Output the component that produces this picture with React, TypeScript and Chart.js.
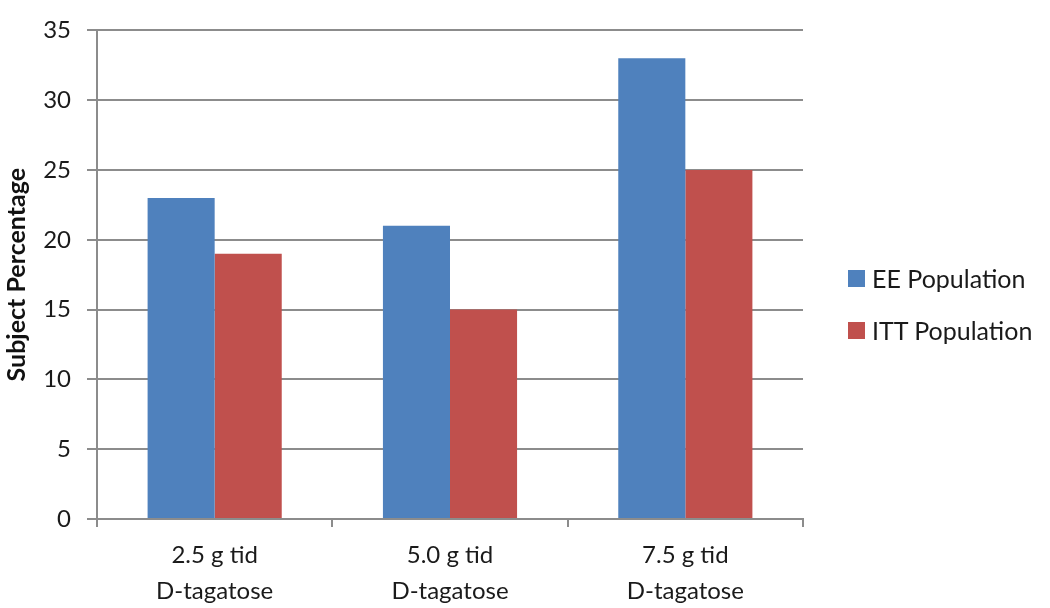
import React, { useEffect, useRef } from "react";
import { Chart, registerables } from "chart.js";

Chart.register(...registerables);

const categories: string[][] = [
  ["2.5 g tid", "D-tagatose"],
  ["5.0 g tid", "D-tagatose"],
  ["7.5 g tid", "D-tagatose"],
];
const seriesNames = ["EE Population", "ITT Population"];
const eeValues = [23, 21, 33];
const ittValues = [19, 15, 25];
const seriesColors = ["#4F81BD", "#C0504D"];
const yTitle = "Subject Percentage";

const FONT = "Lato, 'Open Sans', sans-serif";

export default function App() {
  const ref = useRef<HTMLCanvasElement | null>(null);
  useEffect(() => {
    document.body.style.margin = "0";
    if (!ref.current) return;
    const chart = new Chart(ref.current, {
      type: "bar",
      data: {
        labels: categories,
        datasets: [
          { label: seriesNames[0], data: eeValues, backgroundColor: seriesColors[0] },
          { label: seriesNames[1], data: ittValues, backgroundColor: seriesColors[1] },
        ],
      },
      options: {
        animation: false,
        responsive: false,
        maintainAspectRatio: false,
        layout: { padding: { left: 0, top: 18, right: 247, bottom: 0 } },
        plugins: { legend: { display: false }, tooltip: { enabled: false } },
        datasets: { bar: { categoryPercentage: 0.57, barPercentage: 1 } },
        scales: {
          x: {
            offset: true,
            grid: {
              offset: true,
              drawOnChartArea: false,
              drawTicks: true,
              tickLength: 8,
              color: "#8c8c8c",
              lineWidth: 2,
            },
            border: { color: "#8c8c8c", width: 2 },
            ticks: {
              color: "#1a1a1a",
              font: { family: FONT, size: 24, lineHeight: 1.5 },
              padding: 10,
              maxRotation: 0,
            },
            afterFit: (s: any) => {
              s.height = 608 - 519;
            },
          },
          y: {
            min: 0,
            max: 35,
            ticks: {
              stepSize: 5,
              color: "#1a1a1a",
              font: { family: FONT, size: 24 },
              padding: 16,
            },
            grid: { color: "#8c8c8c", lineWidth: 2, tickLength: 10 },
            border: { color: "#8c8c8c", width: 2 },
            title: {
              display: true,
              text: yTitle,
              color: "#111",
              font: { family: FONT, size: 25, weight: "bold" },
              padding: { top: 2, bottom: 0 },
            },
            afterFit: (s: any) => {
              s.width = 97;
            },
          },
        },
      },
    });
    return () => chart.destroy();
  }, []);

  return (
    <div style={{ position: "relative", width: 1050, height: 608, fontFamily: FONT }}>
      <canvas ref={ref} width={1050} height={608} style={{ position: "absolute", left: 0, top: 0 }} />
      {seriesNames.map((name, i) => (
        <div
          key={name}
          style={{
            position: "absolute",
            left: 848,
            top: i === 0 ? 263 : 315,
            height: 30,
            display: "flex",
            alignItems: "center",
            fontSize: 25,
            color: "#1a1a1a",
            whiteSpace: "nowrap",
          }}
        >
          <span style={{ display: "inline-block", width: 17, height: 17, background: seriesColors[i], marginRight: 7 }} />
          {name}
        </div>
      ))}
    </div>
  );
}
